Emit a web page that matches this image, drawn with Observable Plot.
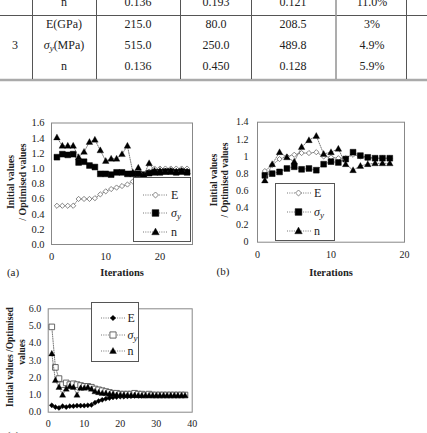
<!DOCTYPE html>
<html><head><meta charset="utf-8">
<script src="https://cdn.jsdelivr.net/npm/d3@7"></script>
<script src="https://cdn.jsdelivr.net/npm/@observablehq/plot@0.6"></script>
<style>
html,body{margin:0;padding:0;background:#fff;}
#root{position:relative;width:427px;height:433px;overflow:hidden;background:#fff;}
</style></head><body><div id="root"></div>
<script>
// ---------- DATA ----------
// table (partial previous row at the top, then case 3)
const tablePrevRow = ["n", "0.136", "0.193", "0.121", "11.0%"];
const tableCase = "3";
const tableParams = ["E(GPa)", "σy(MPa)", "n"];
const tableTarget = ["215.0", "515.0", "0.136"];
const tableInitial = ["80.0", "250.0", "0.450"];
const tableOptimised = ["208.5", "489.8", "0.128"];
const tableError = ["3%", "4.9%", "5.9%"];

// chart (a): iterations 1..25
const aE = [0.51,0.51,0.51,0.51,0.60,0.60,0.60,0.61,0.66,0.70,0.73,0.75,0.77,0.79,0.83,0.86,0.90,0.96,1.00,1.00,1.00,1.00,1.00,1.00,1.00];
const aS = [1.15,1.19,1.18,1.19,1.08,1.09,1.04,1.02,0.93,0.93,0.92,0.95,0.95,0.93,0.93,0.93,0.92,0.94,0.95,0.95,0.96,0.96,0.95,0.96,0.95];
const aN = [1.41,1.30,1.30,1.30,1.15,1.22,1.35,1.38,1.24,1.10,1.13,1.13,1.19,1.30,0.95,1.01,0.91,1.07,0.97,0.97,0.96,0.97,0.96,0.97,0.96];
const aXTicks = [0, 10, 20];
const aYTicks = [0, 0.2, 0.4, 0.6, 0.8, 1.0, 1.2, 1.4, 1.6];

// chart (b): iterations 1..18
const bE = [0.83,0.90,0.97,1.00,1.02,1.04,1.04,1.05,1.00,0.99,0.98,0.98,1.02,1.00,0.98,0.98,0.98,0.98];
const bS = [0.78,0.80,0.82,0.86,0.88,0.85,0.86,0.84,0.91,0.94,0.93,0.97,1.05,1.01,0.99,0.98,0.98,0.98];
const bN = [0.72,0.91,1.05,0.99,0.94,1.11,1.19,1.24,1.03,1.05,1.09,0.91,0.84,0.89,0.91,0.92,0.92,0.92];
const bXTicks = [0, 10, 20];
const bYTicks = [0, 0.2, 0.4, 0.6, 0.8, 1, 1.2, 1.4];

// chart (c): iterations 1..38
const cE = [0.40,0.30,0.25,0.35,0.30,0.35,0.35,0.38,0.38,0.38,0.40,0.42,0.55,0.65,0.72,0.78,0.82,0.86,0.88,0.90,0.90,0.92,0.93,0.94,0.95,0.95,0.96,0.96,0.97,0.97,0.98,0.98,0.98,0.99,0.99,0.99,0.99,0.99];
const cS = [4.95,2.60,1.95,1.60,1.70,1.60,1.65,1.60,1.55,1.50,1.50,1.45,1.35,1.30,1.25,1.20,1.15,1.10,1.10,1.05,1.05,1.05,1.05,1.10,1.05,1.05,1.00,1.05,1.00,1.00,1.00,1.00,1.00,1.00,1.00,1.00,1.00,1.00];
const cN = [3.40,1.85,1.45,1.00,1.35,1.50,1.45,1.00,1.40,1.40,1.45,1.35,1.20,1.15,1.10,1.10,1.05,1.05,1.00,1.00,1.00,0.98,0.98,0.98,0.97,0.97,0.97,0.97,0.97,0.97,0.97,0.97,0.97,0.97,0.97,0.97,0.97,0.97];
const cXTicks = [0, 10, 20, 30, 40];
const cYTicks = [0, 1, 2, 3, 4, 5, 6];

const seriesNames = ["E", "σy", "n"];

// ---------- SYMBOLS ----------
const symDiamond = {draw(c, size){const r=Math.sqrt(size/Math.PI); c.moveTo(0,-r); c.lineTo(r,0); c.lineTo(0,r); c.lineTo(-r,0); c.closePath();}};
const symSquare = {draw(c, size){const r=Math.sqrt(size/Math.PI); c.rect(-r,-r,2*r,2*r);}};
const symTriangle = {draw(c, size){const r=Math.sqrt(size/Math.PI); c.moveTo(0,-r*1.2); c.lineTo(r*1.15,r*0.85); c.lineTo(-r*1.15,r*0.85); c.closePath();}};

const styleAB = [
  {symbol: symDiamond, r: 2.6, fill: "#fff", stroke: "#777", sw: 0.9},
  {symbol: symSquare, r: 2.9, fill: "#000", stroke: "#000", sw: 0.5},
  {symbol: symTriangle, r: 2.9, fill: "#000", stroke: "#000", sw: 0.3}
];
const styleC = [
  {symbol: symDiamond, r: 2.6, fill: "#000", stroke: "#000", sw: 0.3},
  {symbol: symSquare, r: 2.8, fill: "#fff", stroke: "#555", sw: 0.9},
  {symbol: symTriangle, r: 2.7, fill: "#000", stroke: "#000", sw: 0.3}
];

const FONT = '"Liberation Serif","Times New Roman",serif';
const root = document.getElementById("root");

function makeChart(o) {
  const marks = [Plot.frame({stroke: "#888", strokeWidth: 1})];
  o.series.forEach((vals, k) => {
    const data = vals.map((v, i) => ({it: i + 1, v}));
    const st = o.styles[k];
    marks.push(Plot.line(data, {x: "it", y: "v", stroke: "#555", strokeWidth: 0.8, strokeDasharray: "1 1.3"}));
    marks.push(Plot.dot(data, {x: "it", y: "v", symbol: st.symbol, r: st.r, fill: st.fill, stroke: st.stroke, strokeWidth: st.sw}));
  });
  const svg = Plot.plot({
    width: o.width, height: o.height,
    marginLeft: o.ml, marginRight: o.mr, marginTop: o.mt, marginBottom: o.mb,
    x: {domain: o.xDomain, ticks: o.xTicks, tickSize: 0, tickPadding: o.xPad, label: null, tickFormat: d => String(d)},
    y: {domain: o.yDomain, ticks: o.yTicks, tickSize: 0, tickPadding: o.yPad, label: null, tickFormat: o.yFormat},
    style: {fontFamily: FONT, fontSize: o.fs, color: "#222", background: "transparent", overflow: "visible"},
    marks
  });
  svg.style.position = "absolute";
  svg.style.left = o.left + "px";
  svg.style.top = o.top + "px";
  root.appendChild(svg);
}

makeChart({left: 0, top: 100, width: 200, height: 170, ml: 51, mr: 8, mt: 22.5, mb: 26, fs: "10.5px",
  xDomain: [0, 26], xTicks: aXTicks, yDomain: [0, 1.6], yTicks: aYTicks, yFormat: d3.format(".1f"),
  xPad: 8.5, yPad: 7, series: [aE, aS, aN], styles: styleAB});
makeChart({left: 210, top: 100, width: 210, height: 170, ml: 47, mr: 16, mt: 21.7, mb: 28.3, fs: "10px",
  xDomain: [0, 20], xTicks: bXTicks, yDomain: [0, 1.4], yTicks: bYTicks, yFormat: d => String(Math.round(d * 10) / 10),
  xPad: 9, yPad: 9, series: [bE, bS, bN], styles: styleAB});
makeChart({left: 0, top: 295, width: 200, height: 138, ml: 47.7, mr: 8.3, mt: 13.3, mb: 21.3, fs: "10px",
  xDomain: [0, 40], xTicks: cXTicks, yDomain: [0, 6], yTicks: cYTicks, yFormat: d3.format(".1f"),
  xPad: 7.5, yPad: 7, series: [cE, cS, cN], styles: styleC});

// ---------- OVERLAY: table, legends, labels ----------
const svg = d3.select(root).append("svg")
  .attr("width", 427).attr("height", 433)
  .style("position", "absolute").style("left", "0px").style("top", "0px")
  .style("font-family", FONT);

// table lines
svg.append("line").attr("x1", 0).attr("x2", 427).attr("y1", 15.5).attr("y2", 15.5).attr("stroke", "#555").attr("stroke-width", 1);
svg.append("line").attr("x1", 0).attr("x2", 427).attr("y1", 80).attr("y2", 80).attr("stroke", "#aaa").attr("stroke-width", 2.5);
[32.5, 96.5, 180.5, 251.5, 336, 406.5].forEach((x, i) => {
  svg.append("line").attr("x1", x).attr("x2", x).attr("y1", 0).attr("y2", 79)
    .attr("stroke", i === 4 ? "#999" : "#555").attr("stroke-width", i === 4 ? 1.6 : 1);
});
const colX = [15, 64, 138, 216, 293, 372];
function cellText(x, y, t) {
  const el = svg.append("text").attr("x", x).attr("y", y).attr("text-anchor", "middle")
    .attr("dominant-baseline", "central").attr("font-size", 12).attr("fill", "#222");
  if (t.startsWith("σy")) {
    el.append("tspan").attr("font-style", "italic").text("σ");
    el.append("tspan").attr("font-style", "italic").attr("font-size", 9).attr("dy", 3).text("y");
    el.append("tspan").attr("dy", -3).text(t.slice(2));
  } else el.text(t);
}
tablePrevRow.forEach((t, i) => cellText(colX[i + 1], 1.5, t));
cellText(colX[0], 45, tableCase);
const rowY = [24, 45, 66];
tableParams.forEach((t, r) => {
  cellText(colX[1], rowY[r], t);
  cellText(colX[2], rowY[r], tableTarget[r]);
  cellText(colX[3], rowY[r], tableInitial[r]);
  cellText(colX[4], rowY[r], tableOptimised[r]);
  cellText(colX[5], rowY[r], tableError[r]);
});

// legends
function legend(box, rows, lineX, markX, labelX, styles, scale) {
  svg.append("rect").attr("x", box[0] + 0.5).attr("y", box[1] + 0.5).attr("width", box[2] - box[0]).attr("height", box[3] - box[1])
    .attr("fill", "#fff").attr("stroke", "#555").attr("stroke-width", 1);
  seriesNames.forEach((name, k) => {
    const y = rows[k], st = styles[k];
    svg.append("line").attr("x1", lineX[0]).attr("x2", lineX[1]).attr("y1", y).attr("y2", y)
      .attr("stroke", "#555").attr("stroke-width", 0.8).attr("stroke-dasharray", "1 1.3");
    const r = st.r * scale;
    svg.append("path").attr("transform", `translate(${markX},${y})`)
      .attr("d", d3.symbol(st.symbol, Math.PI * r * r)())
      .attr("fill", st.fill).attr("stroke", st.stroke).attr("stroke-width", st.sw);
    const t = svg.append("text").attr("x", labelX).attr("y", y).attr("dominant-baseline", "central")
      .attr("font-size", 12).attr("fill", "#222");
    if (name === "σy") {
      t.append("tspan").attr("font-style", "italic").text("σ");
      t.append("tspan").attr("font-style", "italic").attr("font-size", 9).attr("dy", 3).text("y");
    } else t.text(name);
  });
}
legend([133, 177, 190, 241], [195, 213, 232], [143, 167], 155.5, 171, styleAB, 1.15);
legend([275, 183, 334, 240], [193, 212, 231], [287, 311], 298.5, 314, styleAB, 1.15);
legend([91, 302, 138, 361], [318, 335, 351], [101, 125], 113, 127.5, styleC, 1.1);

// axis titles and panel labels
function txt(x, y, s, opts = {}) {
  const el = svg.append("text").attr("x", x).attr("y", y).attr("text-anchor", opts.anchor || "middle")
    .attr("dominant-baseline", "central").attr("font-size", opts.size || 10)
    .attr("font-weight", opts.bold ? "bold" : "normal").attr("fill", "#222").text(s);
  if (opts.rot) el.attr("transform", `rotate(-90,${x},${y})`);
  return el;
}
txt(122, 272, "Iterations", {bold: true, size: 10.5});
txt(331, 272, "Iterations", {bold: true, size: 10.5});
txt(13, 272, "(a)", {size: 11});
txt(223, 271, "(b)", {size: 11});
txt(13, 435, "(c)", {size: 11});
txt(10, 182, "Initial values", {bold: true, rot: true, size: 9.8});
txt(22, 182, "/ Optimised values", {bold: true, rot: true, size: 9.8});
txt(214, 180, "Initial values", {bold: true, rot: true, size: 9.5});
txt(225, 180, "/ Optimised values", {bold: true, rot: true, size: 9.5});
txt(10, 357, "Initial values /Optimised", {bold: true, rot: true, size: 9.5});
txt(22, 352, "values", {bold: true, rot: true, size: 9.5});
</script>
</body></html>
